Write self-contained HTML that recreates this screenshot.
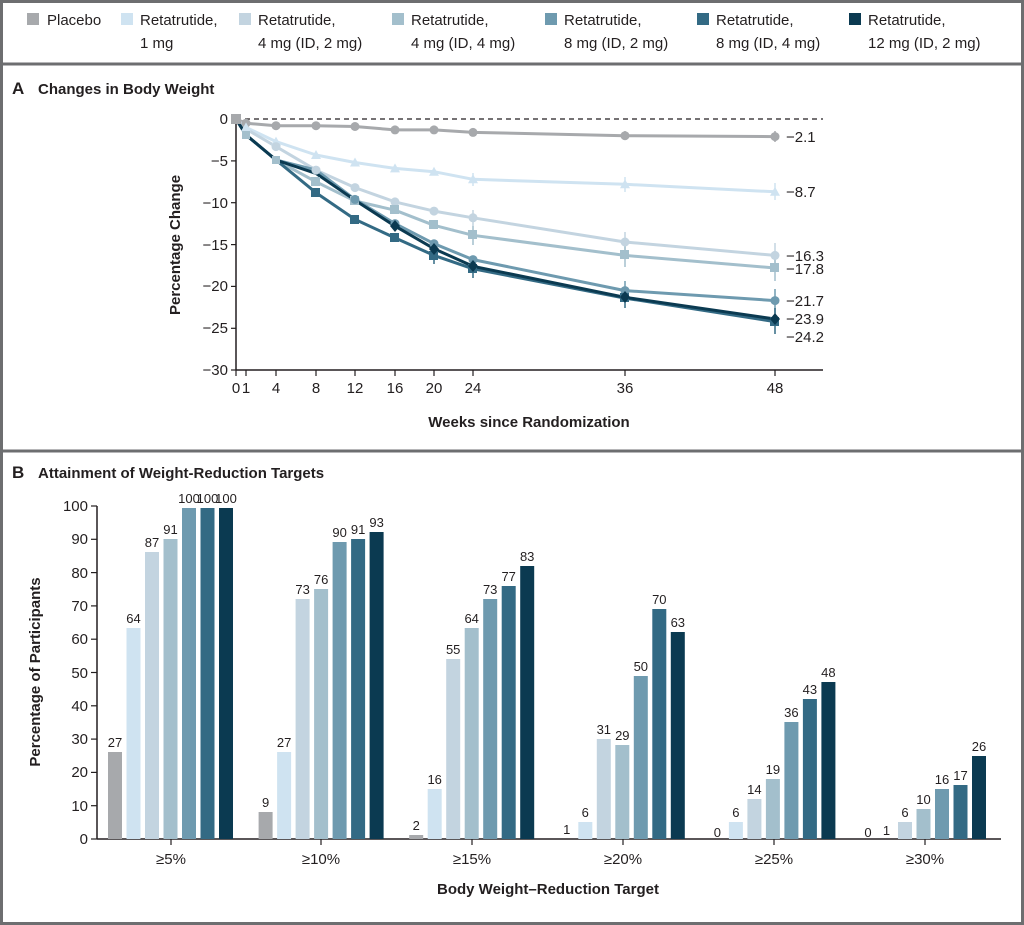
<!DOCTYPE html>
<html><head><meta charset="utf-8"><style>
html,body{margin:0;padding:0;background:#fff}
svg{display:block}
text{font-family:"Liberation Sans Narrow","Liberation Sans",sans-serif;fill:#231f20}
.t{font-size:15px}
.b{font-size:15px;font-weight:bold}
.s{font-size:13px}
</style></head><body>
<svg width="1024" height="925" viewBox="0 0 1024 925" xmlns="http://www.w3.org/2000/svg">
<rect x="1.5" y="1.5" width="1021" height="922" fill="#fff" stroke="#6d6e70" stroke-width="3"/>
<line x1="0" y1="64" x2="1024" y2="64" stroke="#6d6e70" stroke-width="3"/>
<line x1="0" y1="451" x2="1024" y2="451" stroke="#6d6e70" stroke-width="3"/>
<!-- legend -->
<g class="t">
<rect x="27" y="13" width="12" height="12" fill="#a7a9ac"/><text x="47" y="25" class="t">Placebo</text>
<rect x="121" y="13" width="12" height="12" fill="#cfe3f1"/><text x="140" y="25" class="t">Retatrutide,</text><text x="140" y="48" class="t">1 mg</text>
<rect x="239" y="13" width="12" height="12" fill="#c3d4e0"/><text x="258" y="25" class="t">Retatrutide,</text><text x="258" y="48" class="t">4 mg (ID, 2 mg)</text>
<rect x="392" y="13" width="12" height="12" fill="#a3bfcc"/><text x="411" y="25" class="t">Retatrutide,</text><text x="411" y="48" class="t">4 mg (ID, 4 mg)</text>
<rect x="545" y="13" width="12" height="12" fill="#6e9aaf"/><text x="564" y="25" class="t">Retatrutide,</text><text x="564" y="48" class="t">8 mg (ID, 2 mg)</text>
<rect x="697" y="13" width="12" height="12" fill="#336a84"/><text x="716" y="25" class="t">Retatrutide,</text><text x="716" y="48" class="t">8 mg (ID, 4 mg)</text>
<rect x="849" y="13" width="12" height="12" fill="#0b3a51"/><text x="868" y="25" class="t">Retatrutide,</text><text x="868" y="48" class="t">12 mg (ID, 2 mg)</text>
</g>
<!-- Panel A -->
<text x="12" y="94" class="b" style="font-size:17px">A</text><text x="38" y="94" class="b">Changes in Body Weight</text>
<line x1="236" y1="119" x2="236" y2="370" stroke="#231f20" stroke-width="1.5"/>
<line x1="236" y1="370" x2="823" y2="370" stroke="#231f20" stroke-width="1.5"/>
<line x1="236" y1="119" x2="823" y2="119" stroke="#231f20" stroke-width="1.2" stroke-dasharray="5,4"/>
<g stroke="#231f20" stroke-width="1.2">
<line x1="231" y1="119" x2="236" y2="119"/><line x1="231" y1="160.9" x2="236" y2="160.9"/><line x1="231" y1="202.7" x2="236" y2="202.7"/><line x1="231" y1="244.6" x2="236" y2="244.6"/><line x1="231" y1="286.4" x2="236" y2="286.4"/><line x1="231" y1="328.3" x2="236" y2="328.3"/><line x1="231" y1="370" x2="236" y2="370"/>
<line x1="236" y1="370" x2="236" y2="376"/><line x1="246" y1="370" x2="246" y2="376"/><line x1="276" y1="370" x2="276" y2="376"/><line x1="316" y1="370" x2="316" y2="376"/><line x1="355" y1="370" x2="355" y2="376"/><line x1="395" y1="370" x2="395" y2="376"/><line x1="434" y1="370" x2="434" y2="376"/><line x1="473" y1="370" x2="473" y2="376"/><line x1="625" y1="370" x2="625" y2="376"/><line x1="775" y1="370" x2="775" y2="376"/>
</g>
<g class="t" text-anchor="end">
<text x="228" y="124">0</text><text x="228" y="166">−5</text><text x="228" y="208">−10</text><text x="228" y="250">−15</text><text x="228" y="291">−20</text><text x="228" y="333">−25</text><text x="228" y="375">−30</text>
</g>
<g class="t" text-anchor="middle">
<text x="236" y="393">0</text><text x="246" y="393">1</text><text x="276" y="393">4</text><text x="316" y="393">8</text><text x="355" y="393">12</text><text x="395" y="393">16</text><text x="434" y="393">20</text><text x="473" y="393">24</text><text x="625" y="393">36</text><text x="775" y="393">48</text>
</g>
<text x="529" y="427" class="b" text-anchor="middle">Weeks since Randomization</text>
<text transform="translate(180,245) rotate(-90)" class="b" text-anchor="middle">Percentage Change</text>
<!-- series lines -->
<g fill="none" stroke-width="3" stroke-linejoin="round">
<polyline stroke="#a7a9ac" points="236,119 246,123.2 276,125.7 316,125.7 355,126.5 395,129.9 434,129.9 473,132.4 625,135.7 775,136.6"/>
<polyline stroke="#cfe3f1" points="236,119 246,127.4 276,141.6 316,155 355,162.5 395,168.4 434,171.7 473,179.3 625,184.3 775,191.8"/>
<polyline stroke="#c3d4e0" points="236,119 246,129 276,146.6 316,170.1 355,187.6 395,201.9 434,211.1 473,217.8 625,242 775,255.4"/>
<polyline stroke="#a3bfcc" points="236,119 246,134.9 276,160 316,181.8 355,201 395,210.2 434,225.3 473,235.3 625,255.4 775,268"/>
<polyline stroke="#6e9aaf" points="236,119 246,134.9 276,160 316,170.1 355,199.4 395,223.6 434,243.7 473,259.6 625,290.6 775,300.6"/>
<polyline stroke="#336a84" points="236,119 246,134.9 276,160 316,192.7 355,219.4 395,237.9 434,255.4 473,268.8 625,298.1 775,321.6"/>
<polyline stroke="#0b3a51" points="236,119 246,134.9 276,160 316,173.4 355,200.2 395,226.1 434,248.7 473,266.3 625,297.3 775,319"/>
</g>
<!-- error bars -->
<g stroke-width="1.5">
<g stroke="#a7a9ac"><line x1="625" y1="131" x2="625" y2="140"/><line x1="775" y1="131" x2="775" y2="142"/></g>
<g stroke="#cfe3f1"><line x1="473" y1="173" x2="473" y2="186"/><line x1="625" y1="177" x2="625" y2="192"/><line x1="775" y1="183" x2="775" y2="200"/></g>
<g stroke="#c3d4e0"><line x1="473" y1="210" x2="473" y2="226"/><line x1="625" y1="232" x2="625" y2="252"/><line x1="775" y1="243" x2="775" y2="268"/></g>
<g stroke="#a3bfcc"><line x1="473" y1="226" x2="473" y2="245"/><line x1="625" y1="244" x2="625" y2="267"/><line x1="775" y1="256" x2="775" y2="281"/></g>
<g stroke="#6e9aaf"><line x1="625" y1="281" x2="625" y2="300"/><line x1="775" y1="289" x2="775" y2="313"/></g>
<g stroke="#336a84"><line x1="434" y1="247" x2="434" y2="264"/><line x1="473" y1="260" x2="473" y2="278"/><line x1="625" y1="288" x2="625" y2="308"/><line x1="775" y1="308" x2="775" y2="334"/></g>
</g>
<!-- markers -->
<g fill="#a7a9ac"><circle cx="246" cy="123.2" r="4.5"/><circle cx="276" cy="125.7" r="4.5"/><circle cx="316" cy="125.7" r="4.5"/><circle cx="355" cy="126.5" r="4.5"/><circle cx="395" cy="129.9" r="4.5"/><circle cx="434" cy="129.9" r="4.5"/><circle cx="473" cy="132.4" r="4.5"/><circle cx="625" cy="135.7" r="4.5"/><circle cx="775" cy="136.6" r="4.5"/><rect x="231" y="114" width="10" height="10"/></g>
<g fill="#cfe3f1"><path d="M246 122.4l5 9h-10z M276 136.6l5 9h-10z M316 150l5 9h-10z M355 157.5l5 9h-10z M395 163.4l5 9h-10z M434 166.7l5 9h-10z M473 174.3l5 9h-10z M625 179.3l5 9h-10z M775 186.8l5 9h-10z"/></g>
<g fill="#c3d4e0"><circle cx="276" cy="146.6" r="4.5"/><circle cx="316" cy="170.1" r="4.5"/><circle cx="355" cy="187.6" r="4.5"/><circle cx="395" cy="201.9" r="4.5"/><circle cx="434" cy="211.1" r="4.5"/><circle cx="473" cy="217.8" r="4.5"/><circle cx="625" cy="242" r="4.5"/><circle cx="775" cy="255.4" r="4.5"/></g>
<g fill="#a3bfcc"><rect x="242" y="131" width="8" height="8"/><rect x="272" y="156" width="8" height="8"/><rect x="311" y="177" width="9" height="9"/><rect x="350" y="196" width="9" height="9"/><rect x="390" y="205" width="9" height="9"/><rect x="429" y="220" width="9" height="9"/><rect x="468" y="230" width="9" height="9"/><rect x="620" y="250" width="9" height="9"/><rect x="770" y="263" width="9" height="9"/></g>
<g fill="#6e9aaf"><circle cx="355" cy="199.4" r="4.5"/><circle cx="395" cy="223.6" r="4.5"/><circle cx="434" cy="243.7" r="4.5"/><circle cx="473" cy="259.6" r="4.5"/><circle cx="625" cy="290.6" r="4.5"/><circle cx="775" cy="300.6" r="4.5"/></g>
<g fill="#336a84"><rect x="311" y="188" width="9" height="9"/><rect x="350" y="215" width="9" height="9"/><rect x="390" y="233" width="9" height="9"/><rect x="429" y="251" width="9" height="9"/><rect x="468" y="264" width="9" height="9"/><rect x="620" y="293" width="9" height="9"/><rect x="770" y="317" width="9" height="9"/></g>
<g fill="#0b3a51"><path d="M395 220l5 6-5 6-5-6z M434 243l5 6-5 6-5-6z M473 260l5 6-5 6-5-6z M625 291l5 6-5 6-5-6z M775 313l5 6-5 6-5-6z"/></g>
<g class="t">
<text x="786" y="142">−2.1</text><text x="786" y="197">−8.7</text><text x="786" y="261">−16.3</text><text x="786" y="274">−17.8</text><text x="786" y="306">−21.7</text><text x="786" y="324">−23.9</text><text x="786" y="342">−24.2</text>
</g>
<!-- Panel B -->
<text x="12" y="478" class="b" style="font-size:17px">B</text><text x="38" y="478" class="b">Attainment of Weight-Reduction Targets</text>
<line x1="97" y1="506" x2="97" y2="839" stroke="#231f20" stroke-width="1.5"/>
<line x1="97" y1="839" x2="1001" y2="839" stroke="#231f20" stroke-width="1.5"/>
<g stroke="#231f20" stroke-width="1.2">
<line x1="91" y1="506" x2="97" y2="506"/><line x1="91" y1="539.3" x2="97" y2="539.3"/><line x1="91" y1="572.6" x2="97" y2="572.6"/><line x1="91" y1="605.9" x2="97" y2="605.9"/><line x1="91" y1="639.2" x2="97" y2="639.2"/><line x1="91" y1="672.5" x2="97" y2="672.5"/><line x1="91" y1="705.8" x2="97" y2="705.8"/><line x1="91" y1="739.1" x2="97" y2="739.1"/><line x1="91" y1="772.4" x2="97" y2="772.4"/><line x1="91" y1="805.7" x2="97" y2="805.7"/><line x1="91" y1="839" x2="97" y2="839"/>
<line x1="171" y1="839" x2="171" y2="845"/><line x1="321" y1="839" x2="321" y2="845"/><line x1="472" y1="839" x2="472" y2="845"/><line x1="623" y1="839" x2="623" y2="845"/><line x1="774" y1="839" x2="774" y2="845"/><line x1="925" y1="839" x2="925" y2="845"/>
</g>
<g class="t" text-anchor="end">
<text x="88" y="511">100</text><text x="88" y="544">90</text><text x="88" y="578">80</text><text x="88" y="611">70</text><text x="88" y="644">60</text><text x="88" y="678">50</text><text x="88" y="711">40</text><text x="88" y="744">30</text><text x="88" y="777">20</text><text x="88" y="811">10</text><text x="88" y="844">0</text>
</g>
<text transform="translate(40,672) rotate(-90)" class="b" text-anchor="middle">Percentage of Participants</text>
<g class="t" text-anchor="middle">
<text x="171" y="864">≥5%</text><text x="321" y="864">≥10%</text><text x="472" y="864">≥15%</text><text x="623" y="864">≥20%</text><text x="774" y="864">≥25%</text><text x="925" y="864">≥30%</text>
</g>
<text x="548" y="894" class="b" text-anchor="middle">Body Weight–Reduction  Target</text>
<!-- bars: g0 -->
<rect x="108" y="752" width="14" height="87" fill="#a7a9ac"/><rect x="126.5" y="628" width="14" height="211" fill="#cfe3f1"/><rect x="145" y="552" width="14" height="287" fill="#c3d4e0"/><rect x="163.5" y="539" width="14" height="300" fill="#a3bfcc"/><rect x="182" y="508" width="14" height="331" fill="#6e9aaf"/><rect x="200.5" y="508" width="14" height="331" fill="#336a84"/><rect x="219" y="508" width="14" height="331" fill="#0b3a51"/>
<!-- g1 -->
<rect x="258.6" y="812" width="14" height="27" fill="#a7a9ac"/><rect x="277.1" y="752" width="14" height="87" fill="#cfe3f1"/><rect x="295.6" y="599" width="14" height="240" fill="#c3d4e0"/><rect x="314.1" y="589" width="14" height="250" fill="#a3bfcc"/><rect x="332.6" y="542" width="14" height="297" fill="#6e9aaf"/><rect x="351.1" y="539" width="14" height="300" fill="#336a84"/><rect x="369.6" y="532" width="14" height="307" fill="#0b3a51"/>
<!-- g2 -->
<rect x="409.2" y="835" width="14" height="4" fill="#a7a9ac"/><rect x="427.7" y="789" width="14" height="50" fill="#cfe3f1"/><rect x="446.2" y="659" width="14" height="180" fill="#c3d4e0"/><rect x="464.7" y="628" width="14" height="211" fill="#a3bfcc"/><rect x="483.2" y="599" width="14" height="240" fill="#6e9aaf"/><rect x="501.7" y="586" width="14" height="253" fill="#336a84"/><rect x="520.2" y="566" width="14" height="273" fill="#0b3a51"/>
<!-- g3 -->
<rect x="578.3" y="822" width="14" height="17" fill="#cfe3f1"/><rect x="596.8" y="739" width="14" height="100" fill="#c3d4e0"/><rect x="615.3" y="745" width="14" height="94" fill="#a3bfcc"/><rect x="633.8" y="676" width="14" height="163" fill="#6e9aaf"/><rect x="652.3" y="609" width="14" height="230" fill="#336a84"/><rect x="670.8" y="632" width="14" height="207" fill="#0b3a51"/>
<!-- g4 -->
<rect x="728.9" y="822" width="14" height="17" fill="#cfe3f1"/><rect x="747.4" y="799" width="14" height="40" fill="#c3d4e0"/><rect x="765.9" y="779" width="14" height="60" fill="#a3bfcc"/><rect x="784.4" y="722" width="14" height="117" fill="#6e9aaf"/><rect x="802.9" y="699" width="14" height="140" fill="#336a84"/><rect x="821.4" y="682" width="14" height="157" fill="#0b3a51"/>
<!-- g5 -->
<rect x="898" y="822" width="14" height="17" fill="#c3d4e0"/><rect x="916.5" y="809" width="14" height="30" fill="#a3bfcc"/><rect x="935" y="789" width="14" height="50" fill="#6e9aaf"/><rect x="953.5" y="785" width="14" height="54" fill="#336a84"/><rect x="972" y="756" width="14" height="83" fill="#0b3a51"/>
<g class="s" text-anchor="middle">
<text x="115" y="747">27</text><text x="133.5" y="623">64</text><text x="152" y="547">87</text><text x="170.5" y="534">91</text><text x="189" y="503">100</text><text x="207.5" y="503">100</text><text x="226" y="503">100</text>
<text x="265.6" y="807">9</text><text x="284.1" y="747">27</text><text x="302.6" y="594">73</text><text x="321.1" y="584">76</text><text x="339.6" y="537">90</text><text x="358.1" y="534">91</text><text x="376.6" y="527">93</text>
<text x="416.2" y="830">2</text><text x="434.7" y="784">16</text><text x="453.2" y="654">55</text><text x="471.7" y="623">64</text><text x="490.2" y="594">73</text><text x="508.7" y="581">77</text><text x="527.2" y="561">83</text>
<text x="566.8" y="834">1</text><text x="585.3" y="817">6</text><text x="603.8" y="734">31</text><text x="622.3" y="740">29</text><text x="640.8" y="671">50</text><text x="659.3" y="604">70</text><text x="677.8" y="627">63</text>
<text x="717.4" y="837">0</text><text x="735.9" y="817">6</text><text x="754.4" y="794">14</text><text x="772.9" y="774">19</text><text x="791.4" y="717">36</text><text x="809.9" y="694">43</text><text x="828.4" y="677">48</text>
<text x="868" y="837">0</text><text x="886.5" y="835">1</text><text x="905" y="817">6</text><text x="923.5" y="804">10</text><text x="942" y="784">16</text><text x="960.5" y="780">17</text><text x="979" y="751">26</text>
</g>
</svg>
</body></html>
